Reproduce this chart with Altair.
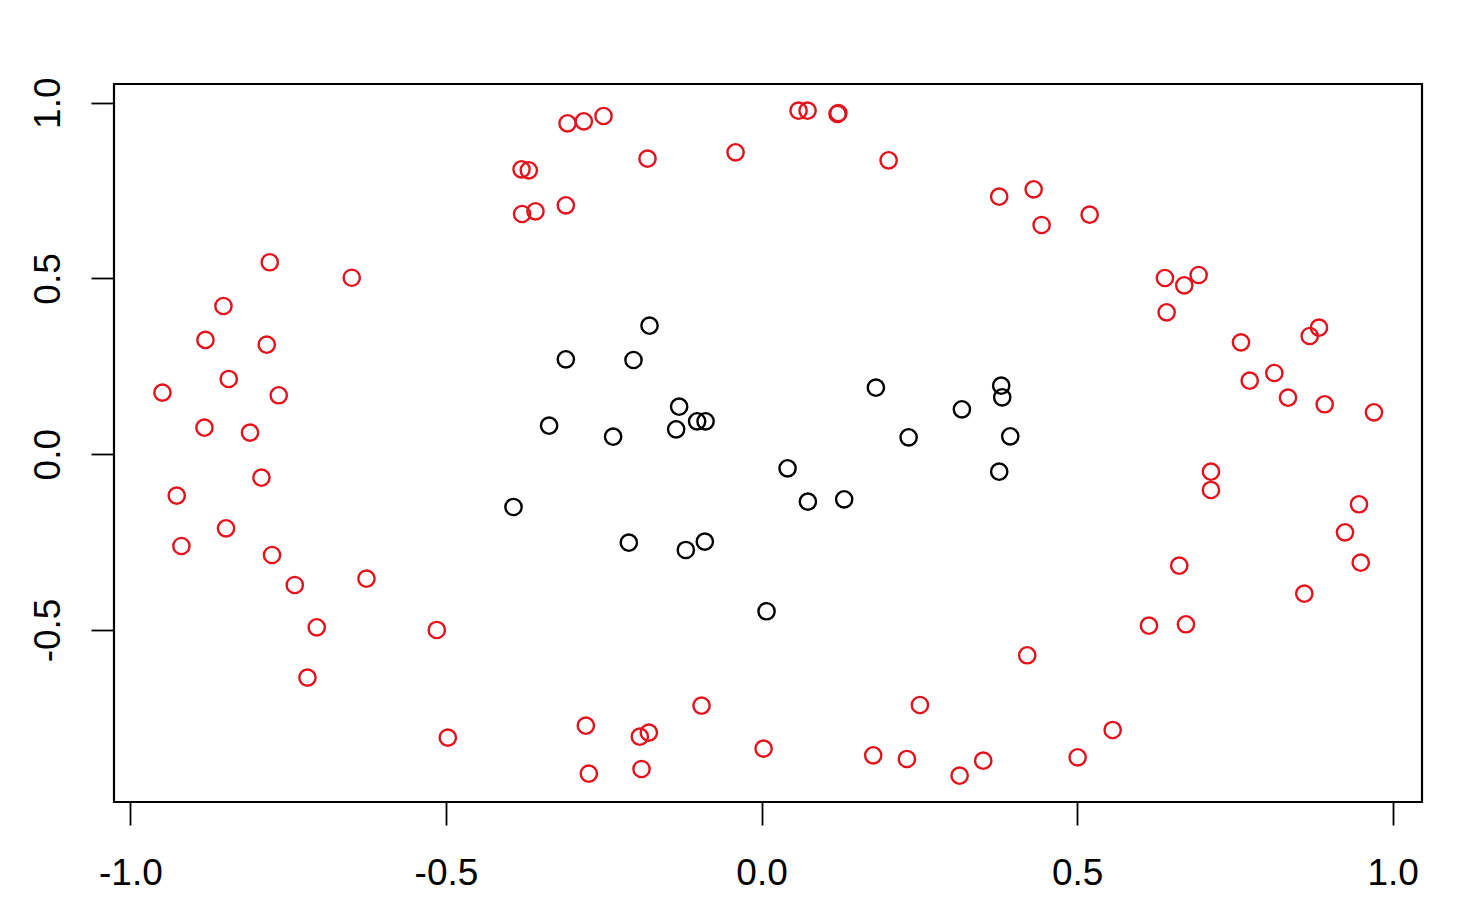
import altair as alt
import pandas as pd

# outer ring (red) points
red_x = [-0.9493, -0.8811, -0.8526, -0.7792, -0.6493, -0.784, -0.8442, -0.7650, -0.8827, -0.8105,
         -0.9266, -0.7924, -0.8485, -0.9192, -0.7756, -0.7396, -0.626, -0.7048, -0.7195, -0.5146,
         -0.4971, -0.2784, -0.2737, -0.1929, -0.1786, -0.1902, -0.0951, 0.0032, 0.1769, 0.2303,
         0.2509, 0.3138, 0.3512, 0.4209, 0.5008, 0.5563, 0.6138, 0.6724, 0.6618, 0.712,
         0.712, 0.8599, 0.9244, 0.9466, 0.9493, 0.9703, 0.8922, 0.8341, 0.8124, 0.7734,
         0.7596, 0.8685, 0.8832, 0.6418, 0.6391, 0.6697, 0.6925, 0.5198, 0.4437, 0.4311,
         0.3765, 0.2013, 0.1204, 0.1217, 0.0586, 0.0729, -0.0412, -0.1807, -0.2504, -0.2816,
         -0.3074, -0.3101, -0.3582, -0.3794, -0.3803, -0.3688]
red_y = [0.175, 0.325, 0.4216, 0.546, 0.502, 0.3115, 0.214, 0.1676, 0.0754, 0.0612,
         -0.118, -0.0669, -0.2108, -0.2612, -0.2868, -0.3721, -0.3542, -0.4925, -0.6358, -0.5001,
         -0.8065, -0.7724, -0.909, -0.8037, -0.7923, -0.8956, -0.7155, -0.8378, -0.8566, -0.8671,
         -0.7135, -0.9147, -0.872, -0.5721, -0.8623, -0.7846, -0.4879, -0.4839, -0.3172, -0.1018,
         -0.0498, -0.3969, -0.2222, -0.1425, -0.3087, 0.1192, 0.142, 0.1607, 0.231, 0.2091,
         0.3183, 0.3363, 0.3599, 0.4037, 0.5013, 0.4805, 0.5098, 0.6814, 0.6521, 0.7536,
         0.7326, 0.8361, 0.9679, 0.9707, 0.9772, 0.9772, 0.8589, 0.8407, 0.9622, 0.9471,
         0.9414, 0.7081, 0.691, 0.6834, 0.8105, 0.8077]

# inner cluster (black) points
black_x = [-0.3101, -0.2029, -0.1775, -0.3366, -0.2352, -0.1353, -0.1306, -0.1021, -0.0887, 0.1811,
           0.3174, 0.233, 0.3797, 0.3813, 0.394, 0.3765, 0.0412, 0.0734, 0.1309, -0.2103,
           -0.12, -0.0899, 0.0079, -0.393]
black_y = [0.27, 0.268, 0.3656, 0.0811, 0.0498, 0.0708, 0.1351, 0.0936, 0.0936, 0.1892,
           0.1277, 0.0481, 0.1949, 0.1619, 0.0509, -0.0498, -0.0401, -0.1351, -0.1283, -0.2518,
           -0.2725, -0.2489, -0.4469, -0.1502]

x_ticks = [-1.0, -0.5, 0.0, 0.5, 1.0]
y_ticks = [-0.5, 0.0, 0.5, 1.0]

df = pd.DataFrame({
    "x": black_x + red_x,
    "y": black_y + red_y,
    "group": ["inner"] * len(black_x) + ["outer"] * len(red_x),
})

label_expr = "datum.value < 0 ? '-' + format(-datum.value, '.1f') : format(datum.value, '.1f')"
font = "Liberation Sans"

chart = alt.Chart(df).mark_point(
    shape="circle", filled=False, size=265, strokeWidth=2.4, opacity=1
).encode(
    x=alt.X("x:Q", scale=alt.Scale(domain=[-1.026, 1.0464], nice=False, zero=False),
            axis=alt.Axis(values=x_ticks, labelExpr=label_expr, title=None, grid=False,
                          domain=False, tickSize=23, tickWidth=1.8, tickColor="black",
                          labelFont=font, labelFontSize=37, labelColor="black",
                          labelBaseline="alphabetic", labelPadding=59, labelAlign="center",
                          labelFlush=False, labelOverlap=False)),
    y=alt.Y("y:Q", scale=alt.Scale(domain=[-0.9895, 1.0532], nice=False, zero=False),
            axis=alt.Axis(values=y_ticks, labelExpr=label_expr, title=None, grid=False,
                          domain=False, tickSize=23, tickWidth=1.8, tickColor="black",
                          labelFont=font, labelFontSize=37, labelColor="black",
                          labelAngle=270, labelAlign="center", labelBaseline="alphabetic",
                          labelPadding=32, labelFlush=False, labelOverlap=False)),
    color=alt.Color("group:N", scale=alt.Scale(domain=["inner", "outer"],
                                               range=["#000000", "#E3121C"]), legend=None),
).properties(
    width=1308, height=718,
    background="white",
    autosize=alt.AutoSizeParams(type="none"),
    padding={"left": 106, "top": 76, "right": 20, "bottom": 100},
).configure_view(
    stroke="black", strokeWidth=2.2, fill="white"
)

chart.save("out.html", embed_options={"renderer": "svg", "actions": False})
